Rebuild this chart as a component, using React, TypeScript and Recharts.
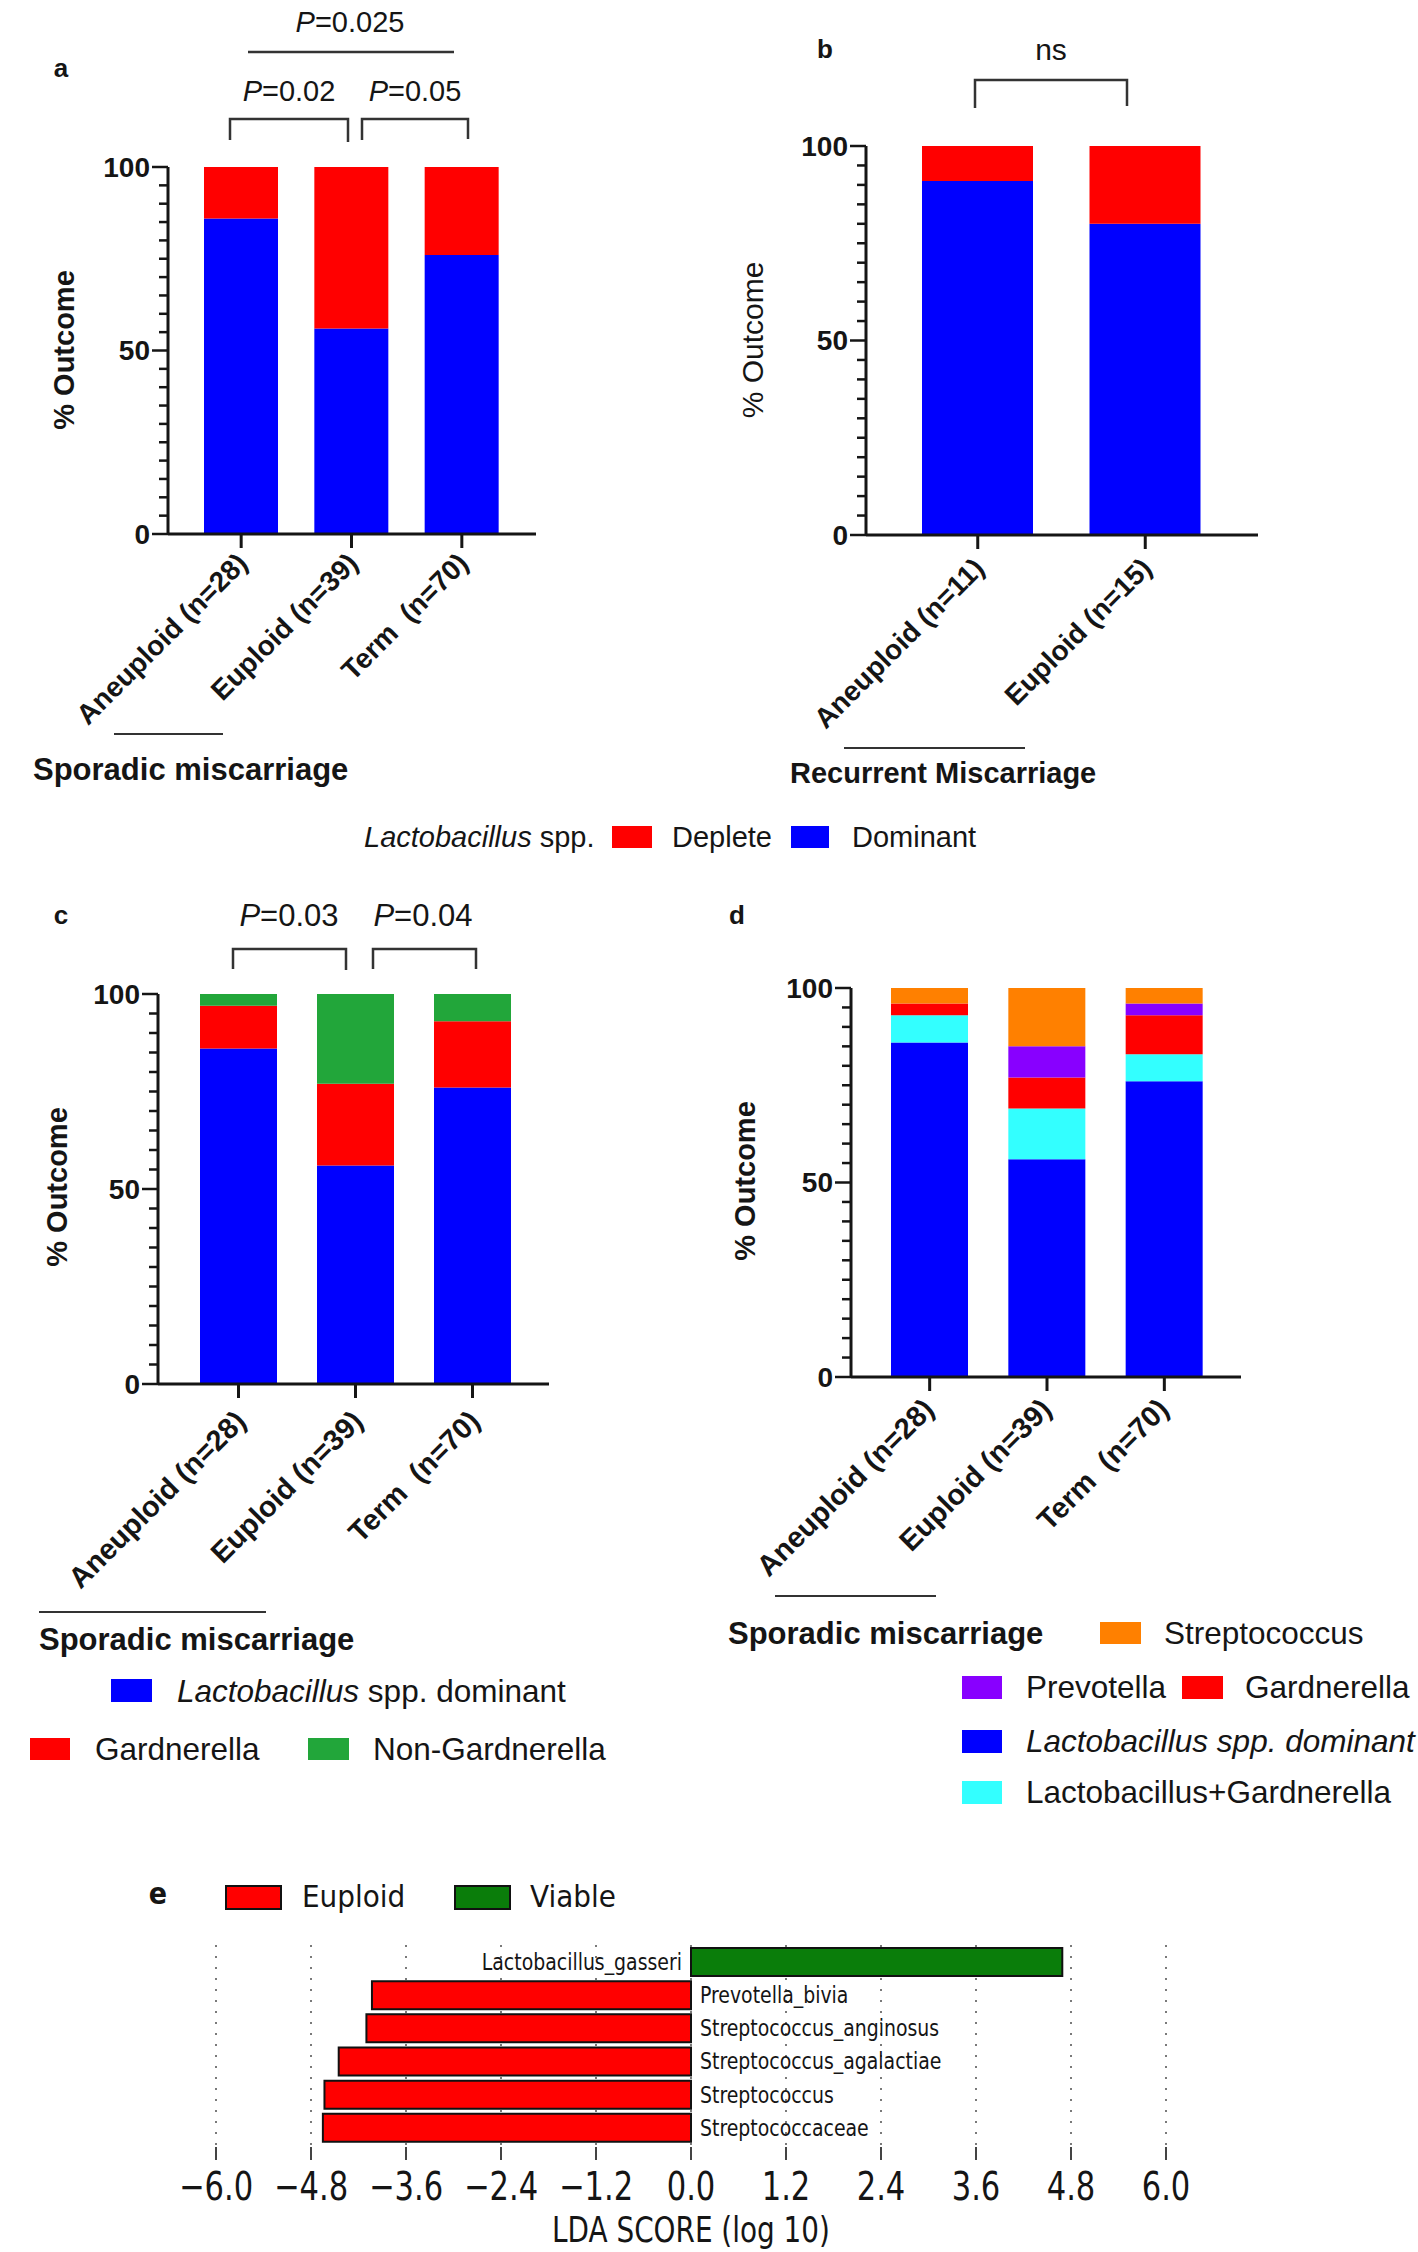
import React from 'react';
import { BarChart, Bar, XAxis, YAxis, CartesianGrid, Cell, LabelList } from 'recharts';

const FONT = "'Liberation Sans', Arial, Helvetica, sans-serif";
const EFONT = "'DejaVu Sans Condensed', 'DejaVu Sans', sans-serif";
const INK = '#151515';

const BLUE = '#0000FF';
const RED = '#FF0000';
const GREEN = '#22A63A';
const ORANGE = '#FF8000';
const PURPLE = '#8800FF';
const CYAN = '#33FFFF';
const E_RED = '#FF0000';
const E_GREEN = '#0A7D0A';

// ---- data ----
const sporadicGroups = ['Aneuploid (n=28)', 'Euploid (n=39)', 'Term  (n=70)'];
const recurrentGroups = ['Aneuploid (n=11)', 'Euploid (n=15)'];

const aDominant = [86, 56, 76];
const aDeplete = [14, 44, 24];

const bDominant = [91, 80];
const bDeplete = [9, 20];

const cDominant = [86, 56, 76];
const cGardnerella = [11, 21, 17];
const cNonGardnerella = [3, 23, 7];

const dDominant = [86, 56, 76];
const dLactoGard = [7, 13, 7];
const dGardnerella = [3, 8, 10];
const dPrevotella = [0, 8, 3];
const dStreptococcus = [4, 15, 4];

const ldaTaxa = [
  'Lactobacillus_gasseri',
  'Prevotella_bivia',
  'Streptococcus_anginosus',
  'Streptococcus_agalactiae',
  'Streptococcus',
  'Streptococcaceae',
];
const ldaScores = [4.69, -4.03, -4.1, -4.45, -4.63, -4.65];
const ldaTicks = [-6, -4.8, -3.6, -2.4, -1.2, 0, 1.2, 2.4, 3.6, 4.8, 6];

const percentTicks = [0, 5, 10, 15, 20, 25, 30, 35, 40, 45, 50, 55, 60, 65, 70, 75, 80, 85, 90, 95, 100];
const percentLabels = [0, 50, 100];

// ---- tables ----
const aData = sporadicGroups.map((g, i) => ({ group: g, dominant: aDominant[i], deplete: aDeplete[i] }));
const bData = recurrentGroups.map((g, i) => ({ group: g, dominant: bDominant[i], deplete: bDeplete[i] }));
const cData = sporadicGroups.map((g, i) => ({
  group: g,
  dominant: cDominant[i],
  gard: cGardnerella[i],
  nongard: cNonGardnerella[i],
}));
const dData = sporadicGroups.map((g, i) => ({
  group: g,
  dominant: dDominant[i],
  lactogard: dLactoGard[i],
  gard: dGardnerella[i],
  prev: dPrevotella[i],
  strep: dStreptococcus[i],
}));
const ldaData = ldaTaxa.map((t, i) => ({ taxon: t, score: ldaScores[i] }));

// ---- ticks ----
const PercentTick = (props: any) => {
  const { x, y, payload } = props;
  const v = payload.value;
  const major = percentLabels.includes(v);
  const len = major ? 16 : 9;
  return (
    <g>
      <line x1={x - len} y1={y} x2={x} y2={y} stroke={INK} strokeWidth={2.5} />
      {major && (
        <text
          x={x - 18}
          y={y}
          textAnchor="end"
          dominantBaseline="central"
          fontFamily={FONT}
          fontWeight="bold"
          fontSize={28}
          fill={INK}
        >
          {v}
        </text>
      )}
    </g>
  );
};

const makeCategoryTick = (dx: number, dy: number, size: number) => (props: any) => {
  const { x, y, payload } = props;
  return (
    <text
      transform={`translate(${x + dx},${y + dy}) rotate(-45)`}
      textAnchor="end"
      fontFamily={FONT}
      fontWeight="bold"
      fontSize={size}
      fill={INK}
      style={{ whiteSpace: 'pre' }}
    >
      {payload.value}
    </text>
  );
};

const fmtLda = (v: number) => (v < 0 ? '\u2212' : '') + Math.abs(v).toFixed(1);

const LdaTick = (props: any) => {
  const { x, y, payload } = props;
  return (
    <text
      transform={`translate(${x},${y + 25}) scale(1,1.15)`}
      textAnchor="middle"
      dominantBaseline="central"
      fontFamily={EFONT}
      fontSize={34}
      fill={INK}
    >
      {fmtLda(payload.value)}
    </text>
  );
};

const LdaLabel = (props: any) => {
  const { x, y, width, height, index } = props;
  const score = ldaScores[index];
  let zeroX: number;
  if (width < 0) zeroX = x;
  else zeroX = score < 0 ? x + width : x;
  const pos = score > 0;
  return (
    <text
      transform={`translate(${pos ? zeroX - 9 : zeroX + 9},${y + height / 2}) scale(1,1.1)`}
      textAnchor={pos ? 'end' : 'start'}
      dominantBaseline="central"
      fontFamily={EFONT}
      fontSize={21}
      fill={INK}
    >
      {ldaTaxa[index]}
    </text>
  );
};

// ---- generic stacked panel ----
type Series = { key: string; color: string };
type PanelProps = {
  left: number;
  top: number;
  width: number;
  height: number;
  plot: { x0: number; y0: number; x1: number; y1: number };
  data: any[];
  series: Series[];
  barSize: number;
  pad: { left: number; right: number };
  tick: any;
};

const YW = 100;
const XH = 200;

function StackedPanel({ left, top, width, height, plot, data, series, barSize, pad, tick }: PanelProps) {
  const margin = {
    left: plot.x0 - left - YW,
    top: plot.y0 - top,
    right: left + width - plot.x1,
    bottom: top + height - plot.y1 - XH,
  };
  const TickComp = tick;
  return (
    <div style={{ position: 'absolute', left, top, width, height }}>
      <BarChart width={width} height={height} data={data} margin={margin} barSize={barSize}>
        <XAxis
          dataKey="group"
          type="category"
          height={XH}
          padding={pad}
          interval={0}
          tickSize={14}
          tickMargin={0}
          axisLine={{ stroke: INK, strokeWidth: 3 }}
          tickLine={{ stroke: INK, strokeWidth: 3 }}
          tick={<TickComp />}
        />
        <YAxis
          type="number"
          domain={[0, 100]}
          ticks={percentTicks}
          interval={0}
          width={YW}
          tickSize={0}
          tickMargin={0}
          tickLine={false}
          axisLine={{ stroke: INK, strokeWidth: 3 }}
          tick={<PercentTick />}
        />
        {series.map((s) => (
          <Bar key={s.key} dataKey={s.key} stackId="s" fill={s.color} isAnimationActive={false} />
        ))}
      </BarChart>
    </div>
  );
}

// ---- overlay helpers ----
const T = (p: any) => (
  <text
    fontFamily={FONT}
    fontSize={29}
    fill={INK}
    dominantBaseline="central"
    {...p}
  />
);

const Bracket = ({ x0, x1, yTop, yBot0, yBot1 }: any) => (
  <polyline
    points={`${x0},${yBot0} ${x0},${yTop} ${x1},${yTop} ${x1},${yBot1}`}
    fill="none"
    stroke="#333"
    strokeWidth={2.5}
  />
);

const PVal = ({ x, y, v, size }: any) => (
  <T x={x} y={y} textAnchor="middle" fontSize={size || 29}>
    <tspan fontStyle="italic">P</tspan>={v}
  </T>
);

const YTitle = ({ x, y, bold }: any) => (
  <text
    transform={`translate(${x},${y}) rotate(-90)`}
    textAnchor="middle"
    dominantBaseline="central"
    fontFamily={FONT}
    fontSize={bold ? 29 : 30}
    fontWeight={bold ? 'bold' : 'normal'}
    fill={INK}
  >
    % Outcome
  </text>
);

const LEG = 31.5;

function Overlay() {
  return (
    <svg
      width={1418}
      height={2252}
      style={{ position: 'absolute', left: 0, top: 0, pointerEvents: 'none' }}
    >
      {/* panel a */}
      <T x={61} y={68} fontWeight="bold" fontSize={26} textAnchor="middle">a</T>
      <PVal x={350} y={22} v="0.025" />
      <line x1={248} y1={52} x2={454} y2={52} stroke="#333" strokeWidth={2.5} />
      <PVal x={289} y={91} v="0.02" />
      <PVal x={415} y={91} v="0.05" />
      <Bracket x0={230} x1={348} yTop={119} yBot0={140} yBot1={142} />
      <Bracket x0={362} x1={468} yTop={119} yBot0={140} yBot1={139} />
      <YTitle x={64} y={350} bold />
      <line x1={114} y1={734} x2={223} y2={734} stroke="#333" strokeWidth={2} />
      <T x={33} y={769} fontWeight="bold" fontSize={31}>Sporadic miscarriage</T>

      {/* panel b */}
      <T x={825} y={49} fontWeight="bold" fontSize={26} textAnchor="middle">b</T>
      <T x={1051} y={49} textAnchor="middle" fontSize={30}>ns</T>
      <Bracket x0={975} x1={1127} yTop={80} yBot0={108} yBot1={106} />
      <YTitle x={752} y={340} />
      <line x1={844} y1={748} x2={1025} y2={748} stroke="#333" strokeWidth={2} />
      <T x={790} y={773} fontWeight="bold" fontSize={29}>Recurrent Miscarriage</T>

      {/* legend a/b */}
      <T x={364} y={837}>
        <tspan fontStyle="italic">Lactobacillus</tspan> spp.
      </T>
      <rect x={612} y={826} width={40} height={22} fill={RED} />
      <T x={672} y={837}>Deplete</T>
      <rect x={791} y={826} width={38} height={22} fill={BLUE} />
      <T x={852} y={837}>Dominant</T>

      {/* panel c */}
      <T x={61} y={915} fontWeight="bold" fontSize={26} textAnchor="middle">c</T>
      <PVal x={289} y={915} v="0.03" size={31} />
      <PVal x={423} y={915} v="0.04" size={31} />
      <Bracket x0={233} x1={346} yTop={949} yBot0={969} yBot1={970} />
      <Bracket x0={373} x1={476} yTop={949} yBot0={969} yBot1={969} />
      <YTitle x={57} y={1187} bold />
      <line x1={39} y1={1612} x2={266} y2={1612} stroke="#333" strokeWidth={2} />
      <T x={39} y={1639} fontWeight="bold" fontSize={31}>Sporadic miscarriage</T>
      <rect x={111} y={1679} width={41} height={23} fill={BLUE} />
      <T x={177} y={1691} fontSize={LEG}>
        <tspan fontStyle="italic">Lactobacillus</tspan> spp. dominant
      </T>
      <rect x={30} y={1738} width={40} height={22} fill={RED} />
      <T x={95} y={1749} fontSize={LEG}>Gardnerella</T>
      <rect x={308} y={1738} width={41} height={22} fill={GREEN} />
      <T x={373} y={1749} fontSize={LEG}>Non-Gardnerella</T>

      {/* panel d */}
      <T x={737} y={915} fontWeight="bold" fontSize={26} textAnchor="middle">d</T>
      <YTitle x={745} y={1181} bold />
      <line x1={775} y1={1596} x2={936} y2={1596} stroke="#333" strokeWidth={2} />
      <T x={728} y={1633} fontWeight="bold" fontSize={31}>Sporadic miscarriage</T>
      <rect x={1100} y={1622} width={41} height={22} fill={ORANGE} />
      <T x={1164} y={1633} fontSize={LEG}>Streptococcus</T>
      <rect x={962} y={1676} width={40} height={23} fill={PURPLE} />
      <T x={1026} y={1687} fontSize={LEG}>Prevotella</T>
      <rect x={1182} y={1676} width={41} height={23} fill={RED} />
      <T x={1245} y={1687} fontSize={LEG}>Gardnerella</T>
      <rect x={962} y={1730} width={40} height={23} fill={BLUE} />
      <T x={1026} y={1741} fontStyle="italic" fontSize={LEG}>Lactobacillus spp. dominant</T>
      <rect x={962} y={1781} width={40} height={23} fill={CYAN} />
      <T x={1026} y={1792} fontSize={LEG}>Lactobacillus+Gardnerella</T>

      {/* panel e */}
      <T x={158} y={1893} fontWeight="bold" fontSize={30} textAnchor="middle" fontFamily={EFONT}>e</T>
      <rect x={226} y={1886} width={55} height={23} fill={E_RED} stroke="#111" strokeWidth={2} />
      <T x={302} y={1896} fontFamily={EFONT} fontSize={31}>Euploid</T>
      <rect x={455} y={1886} width={55} height={23} fill={E_GREEN} stroke="#111" strokeWidth={2} />
      <T x={530} y={1896} fontFamily={EFONT} fontSize={31}>Viable</T>
      <text
        transform="translate(691,2230) scale(1,1.15)"
        textAnchor="middle"
        dominantBaseline="central"
        fontFamily={EFONT}
        fontSize={31}
        fill={INK}
      >
        LDA SCORE (log 10)
      </text>
    </svg>
  );
}

function LdaPanel() {
  const left = 0;
  const top = 1840;
  const width = 1418;
  const height = 412;
  const plot = { x0: 216, x1: 1166, y0: 1945, y1: 2147 };
  const topAxisH = 15;
  const botAxisH = 70;
  const margin = {
    left: plot.x0 - left,
    right: left + width - plot.x1,
    top: plot.y0 - top - topAxisH,
    bottom: top + height - plot.y1 - botAxisH,
  };
  return (
    <div style={{ position: 'absolute', left, top, width, height }}>
      <BarChart layout="vertical" width={width} height={height} data={ldaData} margin={margin} barSize={28}>
        <CartesianGrid horizontal={false} vertical strokeDasharray="2 9" stroke="#7a7a7a" strokeWidth={2} />
        <XAxis
          type="number"
          domain={[-6, 6]}
          ticks={ldaTicks}
          interval={0}
          allowDataOverflow
          axisLine={false}
          tickSize={13}
          height={botAxisH}
          tickLine={{ stroke: '#444', strokeWidth: 2 }}
          tick={<LdaTick />}
        />
        <XAxis
          xAxisId="top"
          orientation="top"
          type="number"
          domain={[-6, 6]}
          ticks={ldaTicks}
          interval={0}
          allowDataOverflow
          axisLine={false}
          tickSize={15}
          height={topAxisH}
          tickLine={{ stroke: '#444', strokeWidth: 2 }}
          tick={false}
        />
        <YAxis type="category" dataKey="taxon" hide padding={{ top: 0, bottom: 3 }} />
        <Bar dataKey="score" stroke="#111" strokeWidth={2} isAnimationActive={false}>
          {ldaData.map((d, i) => (
            <Cell key={i} fill={d.score > 0 ? E_GREEN : E_RED} />
          ))}
          <LabelList dataKey="taxon" content={<LdaLabel />} />
        </Bar>
      </BarChart>
    </div>
  );
}

const TickA = makeCategoryTick(8, 17, 28);
const TickB = makeCategoryTick(8, 21, 28);
const TickC = makeCategoryTick(9, 25, 29);
const TickD = makeCategoryTick(6, 20, 29);

export default function App() {
  return (
    <div
      style={{
        position: 'absolute',
        left: 0,
        top: 0,
        width: 1418,
        height: 2252,
        background: '#fff',
        overflow: 'hidden',
      }}
    >
      <StackedPanel
        left={0}
        top={0}
        width={709}
        height={820}
        plot={{ x0: 168, y0: 167, x1: 536, y1: 534 }}
        data={aData}
        series={[
          { key: 'dominant', color: BLUE },
          { key: 'deplete', color: RED },
        ]}
        barSize={74}
        pad={{ left: 18, right: 19 }}
        tick={TickA}
      />
      <StackedPanel
        left={709}
        top={0}
        width={709}
        height={820}
        plot={{ x0: 866, y0: 146, x1: 1258, y1: 535 }}
        data={bData}
        series={[
          { key: 'dominant', color: BLUE },
          { key: 'deplete', color: RED },
        ]}
        barSize={111}
        pad={{ left: 28, right: 29 }}
        tick={TickB}
      />
      <StackedPanel
        left={0}
        top={820}
        width={709}
        height={960}
        plot={{ x0: 158, y0: 994, x1: 549, y1: 1384 }}
        data={cData}
        series={[
          { key: 'dominant', color: BLUE },
          { key: 'gard', color: RED },
          { key: 'nongard', color: GREEN },
        ]}
        barSize={77}
        pad={{ left: 22, right: 18 }}
        tick={TickC}
      />
      <StackedPanel
        left={709}
        top={820}
        width={709}
        height={960}
        plot={{ x0: 851, y0: 988, x1: 1241, y1: 1377 }}
        data={dData}
        series={[
          { key: 'dominant', color: BLUE },
          { key: 'lactogard', color: CYAN },
          { key: 'gard', color: RED },
          { key: 'prev', color: PURPLE },
          { key: 'strep', color: ORANGE },
        ]}
        barSize={77}
        pad={{ left: 20, right: 18 }}
        tick={TickD}
      />
      <LdaPanel />
      <Overlay />
    </div>
  );
}
